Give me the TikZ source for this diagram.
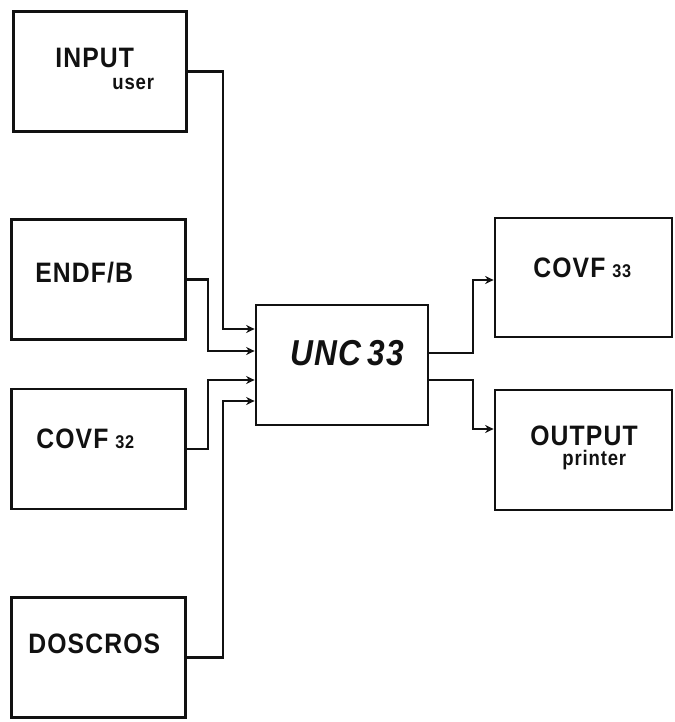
\documentclass[tikz,border=0pt]{standalone}
\usepackage{fontspec}
\setsansfont[FakeStretch=0.88,LetterSpace=4]{Liberation Sans}
\usetikzlibrary{arrows.meta,calc}
\definecolor{ink}{HTML}{111111}
\newcommand{\digits}[1]{{\fontsize{10.5}{10.5}\selectfont #1}}
\tikzset{
  block/.style={draw=ink,line width=1.6pt,minimum width=3.47cm,minimum height=2.4cm,inner sep=0pt},
  flow/.style={draw=ink,line width=1.5pt,-{Stealth[length=1.7mm,width=1.6mm]}},
  tag/.style={font=\sffamily\bfseries\fontsize{16}{16}\selectfont,text=ink,anchor=base west,inner sep=0pt},
  subtag/.style={font=\sffamily\bfseries\fontsize{12}{12}\selectfont,text=ink,anchor=base west,inner sep=0pt}
}

\begin{document}
\begin{tikzpicture}[x=0.02cm,y=-0.02cm]
\useasboundingbox (0,0) rectangle (674,722);

% ---------------- inputs ---------------------------------------------------
\node[block] (inp) at (100,71.5) {};
\node[tag] (inpT) at (55,68) {INPUT};
\node[subtag] (inpS) at (112,90) {user};

\node[block] (endf) at (98.5,279.5) {};
\node[tag] (endfT) at (35,283) {ENDF/B};

\node[block] (cv32) at (98.5,449) {};
\node[tag] (cv32T) at (36,448) {COVF\hspace{4pt}\digits{32}};

\node[block] (dos) at (98.5,657.5) {};
\node[tag] (dosT) at (28,653) {DOSCROS};

% ---------------- processing code ------------------------------------------
\node[block,minimum width=3.44cm] (unc) at (342,365) {};
\node[tag,font=\sffamily\bfseries\itshape\fontsize{20.5}{20.5}\selectfont] (uncT) at (290,365) {UNC\hspace{3pt}33};

% ---------------- outputs --------------------------------------------------
\node[block,minimum width=3.54cm,minimum height=2.38cm] (cv33) at (583.5,277.5) {};
\node[tag] (cv33T) at (533,278) {COVF\hspace{4pt}\digits{33}};

\node[block,minimum width=3.54cm] (outp) at (583.5,450) {};
\node[tag] (outpT) at (530,445) {OUTPUT};
\node[subtag] (outpS) at (562,465) {printer};

% ---------------- connectors -----------------------------------------------
\coordinate (busA) at (208,0);
\coordinate (busB) at (223,0);
\coordinate (busC) at (473,0);
\coordinate (in1) at ($(unc.west)+(0,-36)$);
\coordinate (in2) at ($(unc.west)+(0,-14)$);
\coordinate (in3) at ($(unc.west)+(0,15)$);
\coordinate (in4) at ($(unc.west)+(0,36)$);
\coordinate (out1) at ($(unc.east)+(0,-12)$);
\coordinate (out2) at ($(unc.east)+(0,15)$);
\coordinate (to1) at ($(cv33.west)+(0,2.5)$);
\coordinate (to2) at ($(outp.west)+(0,-21)$);

\draw[flow] (inp.east) -| (busB |- in1) -- (in1);
\draw[flow] (endf.east) -| (busA |- in2) -- (in2);
\draw[flow] (cv32.east) -| (busA |- in3) -- (in3);
\draw[flow] (dos.east) -| (busB |- in4) -- (in4);
\draw[flow] (out1) -| (busC |- to1) -- (to1);
\draw[flow] (out2) -| (busC |- to2) -- (to2);

\end{tikzpicture}
\end{document}
